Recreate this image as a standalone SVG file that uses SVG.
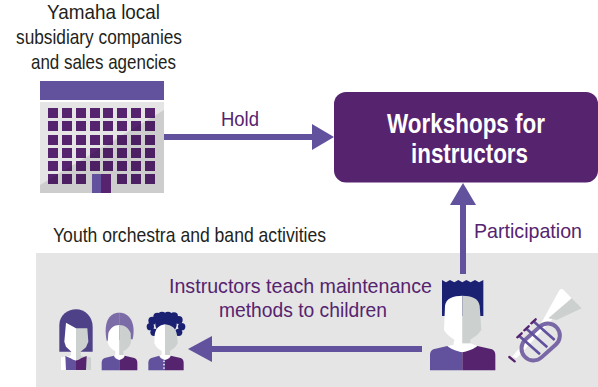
<svg xmlns="http://www.w3.org/2000/svg" width="598" height="387" viewBox="0 0 598 387">
<style>
text{font-family:"Liberation Sans",Arial,sans-serif;font-size:21px;text-anchor:start}
.k{fill:#231f20}.p{fill:#56236f}.w{fill:#fff;font-weight:bold;font-size:27px}
.win rect{fill:#56236f;width:10px;height:10px}
.white{fill:#fff}.grey{fill:#ccd0cf}.lv{fill:#62529e}.dp{fill:#56236f}.navy{fill:#1b2172}
.conn{fill:none;stroke:#62529e;stroke-width:6}
.head{fill:#62529e}
</style>
<rect id="panel" x="36" y="253" width="562" height="134" fill="#e5e5e5"/>
<g id="building">
<rect x="40" y="81" width="124" height="19" fill="#62529e"/>
<rect x="40" y="102" width="124" height="91" fill="#e5e5e5"/>
<g class="win">
<rect x="48" y="108"/><rect x="62" y="108"/><rect x="76" y="108"/><rect x="90" y="108"/><rect x="103" y="108"/><rect x="117" y="108"/><rect x="131" y="108"/><rect x="145" y="108"/>
<rect x="48" y="121"/><rect x="62" y="121"/><rect x="76" y="121"/><rect x="90" y="121"/><rect x="103" y="121"/><rect x="117" y="121"/><rect x="131" y="121"/><rect x="145" y="121"/>
<rect x="48" y="135"/><rect x="62" y="135"/><rect x="76" y="135"/><rect x="90" y="135"/><rect x="103" y="135"/><rect x="117" y="135"/><rect x="131" y="135"/><rect x="145" y="135"/>
<rect x="48" y="148"/><rect x="62" y="148"/><rect x="76" y="148"/><rect x="90" y="148"/><rect x="103" y="148"/><rect x="117" y="148"/><rect x="131" y="148"/><rect x="145" y="148"/>
<rect x="48" y="161"/><rect x="62" y="161"/><rect x="76" y="161"/><rect x="90" y="161"/><rect x="103" y="161"/><rect x="117" y="161"/><rect x="131" y="161"/><rect x="145" y="161"/>
<rect x="48" y="174"/><rect x="62" y="174"/><rect x="76" y="174"/><rect x="117" y="174"/><rect x="131" y="174"/><rect x="145" y="174"/>
</g>
<polygon points="164,110 164,193 40,193 40,185" fill="#000" opacity=".1"/>
<rect x="92" y="174" width="9" height="19" fill="#62529e"/>
<rect x="101" y="174" width="10" height="19" fill="#56236f"/>
</g>
<g id="label-companies">
<text class="k" x="47" y="19" textLength="113" lengthAdjust="spacingAndGlyphs">Yamaha local</text>
<text class="k" x="16" y="44" textLength="166" lengthAdjust="spacingAndGlyphs">subsidiary companies</text>
<text class="k" x="31" y="69" textLength="145" lengthAdjust="spacingAndGlyphs">and sales agencies</text>
</g>
<g id="workshops">
<rect x="334" y="92" width="264" height="90.500" rx="12" fill="#56236f"/>
<text class="w" x="387" y="133" textLength="158" lengthAdjust="spacingAndGlyphs">Workshops for</text>
<text class="w" x="411" y="163" textLength="117" lengthAdjust="spacingAndGlyphs">instructors</text>
</g>
<g id="connectors">
<path class="conn" d="M164 137H314"/><polygon class="head" points="334,137 312,124 312,150"/>
<path class="conn" d="M463 274V203"/><polygon class="head" points="463,183 450,205 476,205"/>
<path class="conn" d="M422 349H210"/><polygon class="head" points="188,349 212,336 212,362"/>
</g>
<text class="p" x="221" y="126" textLength="38" lengthAdjust="spacingAndGlyphs">Hold</text>
<text class="p" x="474" y="238" textLength="108" lengthAdjust="spacingAndGlyphs">Participation</text>
<text class="k" x="53" y="242" textLength="273" lengthAdjust="spacingAndGlyphs">Youth orchestra and band activities</text>
<text class="p" x="169" y="293" textLength="263" lengthAdjust="spacingAndGlyphs">Instructors teach maintenance</text>
<text class="p" x="219" y="317" textLength="168" lengthAdjust="spacingAndGlyphs">methods to children</text>
<g id="instructor" transform="translate(420 265) scale(.33333)">
<path class="navy" d="M66 153V45L78 52 90 45 103 52 115 45 127 52 139 45 152 52 165 45 177 52 190 45V153Z"/>
<path class="white" d="M127 92C100 92 78 100 75 122L72 195C85 215 100 222 103 224L100 240 82 243 127 270 172 243 151 235 127 235Z"/>
<path class="grey" d="M127 92C154 92 176 100 179 122L184 195C170 215 154 222 151 224L151 235 127 235Z"/>
<path class="lv" d="M127 262C105 258 90 250 82 243L40 253Q30 258 30 270V316H127Z"/>
<path class="dp" d="M127 262C149 258 164 250 172 243L216 253Q226 258 226 270V316H127Z"/>
</g>
<g id="trumpet" transform="translate(420 265) scale(.33333)">
<path class="white" d="M276 275 365 172 418 76Q424 68 431 75L455 100 395 165 290 280Z"/>
<path class="grey" d="M455 100 485 130 410 165 385 160Z"/>
<rect x="297" y="195" width="130" height="72" rx="36" transform="rotate(-42 362 231)" fill="none" stroke="#7a68a6" stroke-width="12"/>
<path d="M298 213 360 268M320 192 382 247M342 170 404 225" stroke="#62529e" stroke-width="8" fill="none"/>
<path d="M292 217 305 205M313 196 326 184M334 175 347 163M268 276 284 289" stroke="#56236f" stroke-width="7" stroke-linecap="round" fill="none"/>
</g>
<g id="child-1" transform="translate(40 300) scale(.33333)">
<path fill="#4f4188" d="M58 155V75C58 45 85 28 108 28 135 28 158 50 158 80V155Z"/>
<path class="white" d="M63 210V172L92 168 94 155 78 140 73 125 78 68 108 85V210Z"/>
<path class="grey" d="M108 85 H142L145 125 138 142 122 155 123 168 153 172V210H108Z"/>
<path class="lv" d="M76 168 92 175C98 180 108 182 108 182V210H78Z"/>
<path class="dp" d="M140 168 123 175C118 180 108 182 108 182V210H138Z"/>
</g>
<g id="child-2" transform="translate(40 300) scale(.33333)">
<path fill="#7b6ba6" d="M200 122C190 70 205 38 238 38 270 38 288 70 278 118Z"/>
<path d="M238 38V75" stroke="#9c8fbe" stroke-width="1.500"/>
<path class="white" d="M238 75C222 75 210 85 205 100L203 128C208 142 218 150 226 153V165L222 167 238 182 254 167 250 165H238Z"/>
<path class="grey" d="M238 75C254 75 267 85 272 100L273 128C268 142 258 150 250 153V165H238Z"/>
<path class="lv" d="M238 180C228 178 222 172 222 167L194 174Q185 178 185 188V211H238Z"/>
<path class="dp" d="M238 180C248 178 254 172 254 167L283 174Q292 178 292 188V211H238Z"/>
</g>
<g id="child-3" transform="translate(40 300) scale(.33333)">
<g class="navy"><circle cx="378" cy="72" r="32"/><circle cx="337" cy="62" r="12"/><circle cx="352" cy="50" r="12"/><circle cx="366" cy="47" r="12"/><circle cx="384" cy="47" r="12"/><circle cx="402" cy="49" r="12"/><circle cx="416" cy="60" r="12"/><circle cx="425" cy="80" r="11"/><circle cx="331" cy="80" r="11"/><circle cx="342" cy="97" r="11"/><circle cx="416" cy="97" r="11"/></g>
<path class="white" d="M375 73C358 75 347 85 344 105L343 130C348 142 358 150 365 153V165L358 167 375 182 392 167 390 165H375Z"/>
<path class="grey" d="M375 73C395 75 408 85 411 105L413 130C408 142 396 150 390 153V165H375Z"/>
<path class="lv" d="M375 180C365 178 358 172 358 167L334 174Q325 178 325 188V211H375Z"/>
<path class="dp" d="M375 180C385 178 392 172 392 167L422 174Q431 178 431 188V211H375Z"/>
<circle class="white" cx="372" cy="184" r="2.500"/><circle class="white" cx="372" cy="194" r="2.500"/><circle class="white" cx="372" cy="204" r="2.500"/>
</g>
</svg>
